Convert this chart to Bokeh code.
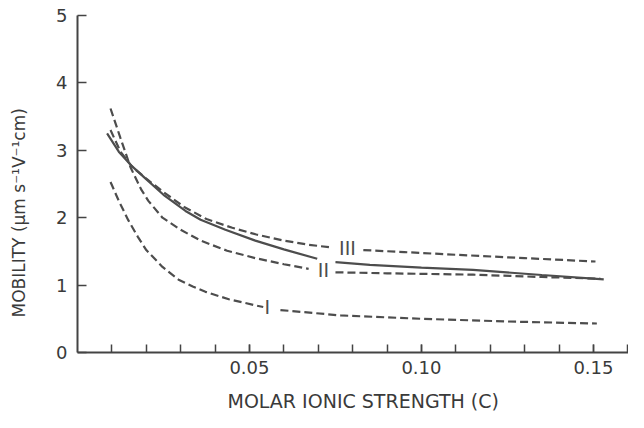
from bokeh.plotting import figure
from bokeh.models import Range1d, FixedTicker, NumeralTickFormatter, Title, ColumnDataSource
from bokeh.core.properties import value
from bokeh.embed import file_html
from bokeh.resources import INLINE

# ---- data ----
# Curve III (dashed, upper at right), split around its label
iii_left_x = [0.0096, 0.0125, 0.016, 0.020, 0.025, 0.031, 0.0375, 0.045, 0.052, 0.060, 0.067, 0.0735]
iii_left_y = [3.30, 2.98, 2.75, 2.58, 2.38, 2.16, 1.98, 1.85, 1.75, 1.66, 1.60, 1.56]
iii_right_x = [0.0831, 0.095, 0.110, 0.130, 0.1506]
iii_right_y = [1.52, 1.49, 1.45, 1.40, 1.35]

# Solid curve
solid_left_x = [0.0086, 0.012, 0.0155, 0.0198, 0.025, 0.0314, 0.0358, 0.043, 0.0517, 0.060, 0.0697]
solid_left_y = [3.25, 2.98, 2.78, 2.58, 2.34, 2.10, 1.97, 1.82, 1.66, 1.53, 1.39]
solid_right_x = [0.075, 0.085, 0.100, 0.115, 0.135, 0.153]
solid_right_y = [1.34, 1.30, 1.26, 1.225, 1.15, 1.085]

# Curve II (dashed)
ii_left_x = [0.0096, 0.0125, 0.0154, 0.0185, 0.0206, 0.0247, 0.030, 0.0358, 0.0435, 0.0517, 0.060, 0.0672]
ii_left_y = [3.62, 3.18, 2.75, 2.42, 2.25, 2.00, 1.82, 1.66, 1.51, 1.40, 1.31, 1.24]
ii_right_x = [0.075, 0.090, 0.115, 0.135, 0.152]
ii_right_y = [1.19, 1.175, 1.155, 1.12, 1.095]

# Curve I (dashed, lowest)
i_left_x = [0.0096, 0.012, 0.0148, 0.0175, 0.020, 0.0247, 0.0294, 0.0335, 0.0372, 0.044, 0.0517, 0.054]
i_left_y = [2.53, 2.25, 1.96, 1.72, 1.52, 1.27, 1.08, 0.98, 0.90, 0.79, 0.70, 0.675]
i_right_x = [0.059, 0.0765, 0.100, 0.125, 0.151]
i_right_y = [0.63, 0.55, 0.50, 0.46, 0.43]

# Curve labels
label_text = ["III", "II", "I"]
label_x = [0.0785, 0.0715, 0.0552]
label_y = [1.545, 1.22, 0.67]

# Axes
x_major_ticks = [0.05, 0.10, 0.15]
x_minor_ticks = [0.01, 0.02, 0.03, 0.04, 0.05, 0.06, 0.07, 0.08, 0.09, 0.10,
                 0.11, 0.12, 0.13, 0.14, 0.15, 0.16]
y_ticks = [0, 1, 2, 3, 4, 5]
x_title = "MOLAR IONIC STRENGTH (C)"
y_title = "MOBILITY (\u03bcm s\u207b\u00b9V\u207b\u00b9cm)"

# ---- styling ----
LINE = "#4d4d4d"
AXIS = "#444444"
TEXT = "#3a3a3a"
FONT = "DejaVu Sans"

p = figure(width=628, height=412, output_backend="svg", toolbar_location=None,
           x_range=Range1d(0, 0.1602), y_range=Range1d(0, 5),
           min_border_left=77, min_border_right=0, min_border_top=15, min_border_bottom=60)
p.outline_line_color = None
p.grid.visible = False
p.background_fill_color = "white"
p.border_fill_color = "white"

xa = p.xaxis[0]
xa.ticker = FixedTicker(ticks=x_major_ticks, minor_ticks=x_minor_ticks)
xa.formatter = NumeralTickFormatter(format="0.00")
xa.major_tick_in = 8
xa.major_tick_out = 0
xa.minor_tick_in = 8
xa.minor_tick_out = 0
xa.axis_line_width = 2
xa.axis_line_color = AXIS
xa.major_tick_line_width = 1.5
xa.minor_tick_line_width = 1.5
xa.major_tick_line_color = AXIS
xa.minor_tick_line_color = AXIS
xa.major_label_standoff = 8
xa.major_label_text_font = FONT
xa.major_label_text_font_size = "18px"
xa.major_label_text_color = TEXT
# blank axis label used only as spacing between tick labels and the title
xa.axis_label = " "
xa.axis_label_text_font_size = "1px"
xa.axis_label_standoff = 7

ya = p.yaxis[0]
ya.ticker = FixedTicker(ticks=y_ticks)
ya.major_tick_in = 9
ya.major_tick_out = 0
ya.minor_tick_in = 0
ya.minor_tick_out = 0
ya.axis_line_width = 2
ya.axis_line_color = AXIS
ya.major_tick_line_width = 1.5
ya.major_tick_line_color = AXIS
ya.major_label_standoff = 10
ya.major_label_text_font = FONT
ya.major_label_text_font_size = "18px"
ya.major_label_text_color = TEXT
ya.axis_label = " "
ya.axis_label_text_font_size = "1px"
ya.axis_label_standoff = 20

dash = "8 4"
lw = 2.2
for xs, ys in [(iii_left_x, iii_left_y), (iii_right_x, iii_right_y),
               (ii_left_x, ii_left_y), (ii_right_x, ii_right_y),
               (i_left_x, i_left_y), (i_right_x, i_right_y)]:
    p.line(xs, ys, line_color=LINE, line_width=lw, line_dash=dash)
for xs, ys in [(solid_left_x, solid_left_y), (solid_right_x, solid_right_y)]:
    p.line(xs, ys, line_color=LINE, line_width=lw)

src = ColumnDataSource(dict(x=label_x, y=label_y, t=label_text))
p.text(x="x", y="y", text="t", source=src, text_font=value(FONT), text_font_size="19px",
       text_color=LINE, text_align="center", text_baseline="middle")

# axis titles
p.add_layout(Title(text=x_title, align="left", offset=150, standoff=0, vertical_align="bottom",
                   text_font=FONT, text_font_size="19px", text_font_style="normal",
                   text_color=TEXT), "below")
p.add_layout(Title(text=y_title, align="left", offset=35, standoff=0, vertical_align="bottom",
                   text_font=FONT, text_font_size="17px", text_font_style="normal",
                   text_color=TEXT), "left")

open("out.html", "w").write(file_html(p, INLINE))
